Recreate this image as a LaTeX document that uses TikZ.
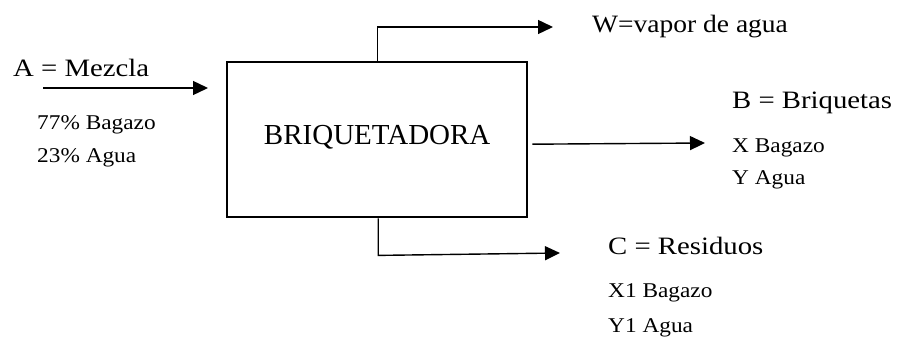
\documentclass[tikz,border=0pt]{standalone}
\usepackage{fontspec}
\usepackage{graphicx}
\setmainfont{Liberation Serif}
\usetikzlibrary{arrows.meta,calc}
\newcommand{\widetxt}[1]{\scalebox{1.15}[1]{#1}}
\newcommand{\swidetxt}[1]{\scalebox{1.11}[1]{#1}}
\begin{document}
\begin{tikzpicture}[x=1pt,y=-1pt,
  lbl/.style={anchor=base west,inner sep=0pt,font=\fontsize{25}{29}\selectfont},
  sm/.style={anchor=base west,inner sep=0pt,font=\fontsize{21}{25}\selectfont},
  flow/.style={line width=1.4pt,-{Triangle[length=15pt,width=14pt]}},
  unit/.style={draw,line width=2.4pt,minimum width=300pt,minimum height=155pt,inner sep=0pt,anchor=north west}
]
\useasboundingbox (0,0) rectangle (900,347);
\node[unit] (box) at (226,61) {};
\node[anchor=base,inner sep=0pt,font=\fontsize{29}{34}\selectfont] (title) at ($(box.center)+(0,4.5)$) {BRIQUETADORA};

% input
\coordinate (ain) at (43,88);
\coordinate (aend) at (208,88);
\draw[flow] (ain) -- (aend);

% vapor
\coordinate (wturn) at ($(box.north)+(0,-34)$);
\coordinate (wend) at (553,27);
\draw[flow,line join=miter] (box.north) -- (wturn) -- (wend);

% briquetas
\coordinate (bstart) at ($(box.east)+(4,4.5)$);
\coordinate (bend) at (705,143);
\draw[flow] (bstart) -- (bend);

% residuos
\coordinate (cturn) at ($(box.south)+(1,37)$);
\coordinate (cend) at (560,253);
\draw[flow,line join=miter] ($(box.south)+(1,0)$) -- (cturn) -- (cend);

% labels
\node[lbl] (a) at (13,77) {\widetxt{A = Mezcla}};
\node[sm] (a1) at (37,130) {\swidetxt{77\% Bagazo}};
\node[sm] (a2) at (37,163) {\swidetxt{23\% Agua}};
\node[lbl] (w) at (592,33) {\scalebox{1.1}[1]{W=vapor de agua}};
\node[lbl] (b) at (732,109) {\widetxt{B = Briquetas}};
\node[sm] (b1) at (732,153) {\swidetxt{X Bagazo}};
\node[sm] (b2) at (732,185) {\swidetxt{Y Agua}};
\node[lbl] (c) at (608,255) {\widetxt{C = Residuos}};
\node[sm] (c1) at (608,298) {\swidetxt{X1 Bagazo}};
\node[sm] (c2) at (608,333) {\swidetxt{Y1 Agua}};
\end{tikzpicture}
\end{document}
